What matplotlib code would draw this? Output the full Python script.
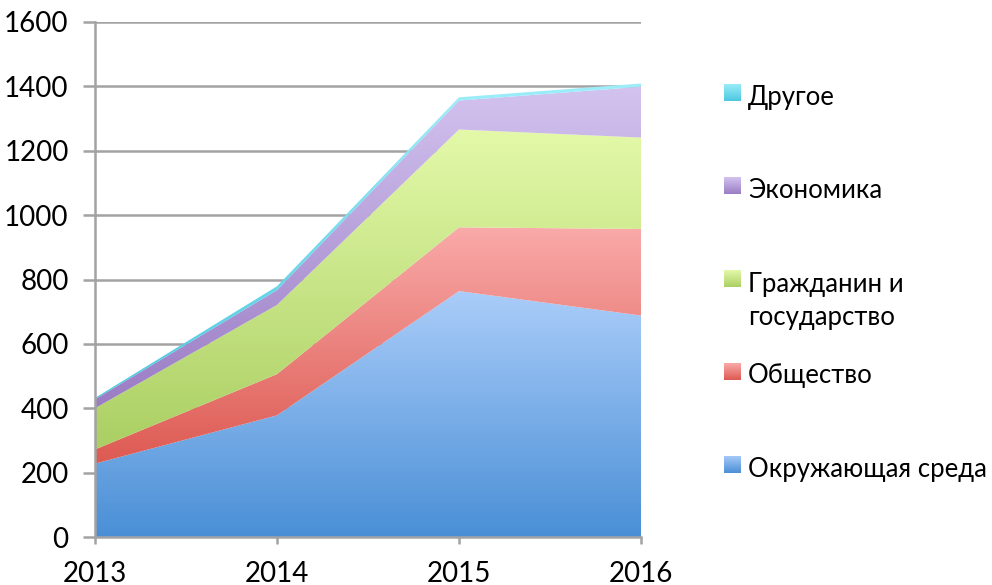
import numpy as np
import matplotlib.pyplot as plt
from matplotlib.colors import LinearSegmentedColormap

# values
years = [2013, 2014, 2015, 2016]
env = [228, 378, 764, 688]
society = [44, 128, 198, 269]
citizen = [128, 215, 304, 284]
economy = [28, 46, 90, 158]
other = [4, 12, 10, 10]

names = ['Окружающая среда', 'Общество', 'Гражданин и\nгосударство', 'Экономика', 'Другое']
series = [env, society, citizen, economy, other]
# (top colour, bottom colour) of each gradient fill
grads = [('#aacdf9', '#4a8fd6'),
         ('#f9aaa9', '#dd5a52'),
         ('#e3f9a9', '#abcf63'),
         ('#d3c3ef', '#9a7cc4'),
         ('#9eeefa', '#4cc8e0')]

plt.rcParams['font.family'] = ['Lato', 'DejaVu Sans']
W, H = 992, 585
fig = plt.figure(figsize=(W / 100, H / 100), dpi=100)
ax = fig.add_axes([95 / W, 48 / H, 546 / W, 515 / H])

grad = np.linspace(0, 1, 256).reshape(-1, 1)
base = np.zeros(len(years))
for vals, (c1, c2) in zip(series, grads):
    top = base + np.array(vals, dtype=float)
    poly = ax.fill_between(years, base, top, facecolor='none', edgecolor='none', zorder=2)
    cmap = LinearSegmentedColormap.from_list('g', [c2, c1])
    im = ax.imshow(grad, cmap=cmap, origin='lower', aspect='auto', interpolation='bilinear',
                   extent=[years[0], years[-1], base.min(), top.max()], zorder=2)
    im.set_clip_path(poly.get_paths()[0], transform=ax.transData)
    base = top

ax.set_xlim(years[0], years[-1])
ax.set_ylim(0, 1600)
ax.set_xticks(years)
ax.set_yticks(range(0, 1601, 200))
ax.set_axisbelow(True)
ax.yaxis.grid(True, color='#a3a3a3', lw=1.8)
for s in ['top', 'right']:
    ax.spines[s].set_visible(False)
for s in ['left', 'bottom']:
    ax.spines[s].set_color('#a3a3a3')
    ax.spines[s].set_linewidth(1.8)
    ax.spines[s].set_zorder(3)
ax.tick_params(axis='y', direction='out', length=9, width=1.8, color='#a3a3a3', labelsize=20, pad=10)
ax.tick_params(axis='x', direction='out', length=5, width=1.8, color='#a3a3a3', labelsize=20, pad=12)

# legend on the right, top entry first
base_y = [477, 383, 292, 198, 105]
box_y = [456, 363, 270, 177, 84]
for name, (c1, c2), by, my in zip(names, grads, base_y, box_y):
    for i, line in enumerate(name.split('\n')):
        fig.text(748 / W, 1 - (by + 33 * i) / H, line, fontsize=18.5, va='baseline', ha='left')
    lax = fig.add_axes([724 / W, 1 - (my + 17) / H, 17 / W, 17 / H])
    lax.imshow(grad, cmap=LinearSegmentedColormap.from_list('l', [c2, c1]), origin='lower', aspect='auto')
    lax.axis('off')

fig.savefig('out.png', dpi=100)
